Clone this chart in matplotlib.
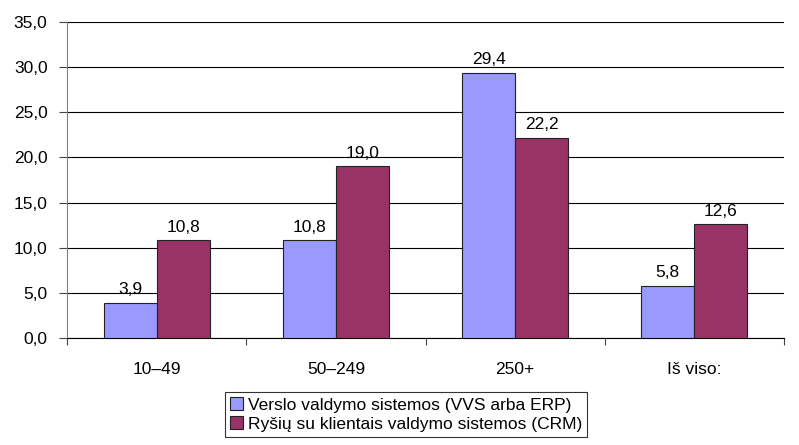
import numpy as np
import matplotlib
matplotlib.use("Agg")
import matplotlib.pyplot as plt

plt.rcParams['font.family'] = ['Liberation Sans', 'DejaVu Sans']

categories = ['10–49', '50–249', '250+', 'Iš viso:']
erp = [3.9, 10.8, 29.4, 5.8]
crm = [10.8, 19.0, 22.2, 12.6]
series_names = ['Verslo valdymo sistemos (VVS arba ERP)',
                'Ryšių su klientais valdymo sistemos (CRM)']

fig = plt.figure(figsize=(7.99, 4.45), dpi=100)
ax = fig.add_axes([67 / 799, 1 - 338 / 445, 717 / 799, 316 / 445])

fs = 12.5
x = np.arange(len(categories))
w = 0.296
b1 = ax.bar(x - w / 2, erp, w, color='#9999FF', edgecolor='#222222', linewidth=0.8,
            label=series_names[0], zorder=3)
b2 = ax.bar(x + w / 2, crm, w, color='#993366', edgecolor='#222222', linewidth=0.8,
            label=series_names[1], zorder=3)

for bars, vals in ((b1, erp), (b2, crm)):
    for r, v in zip(bars, vals):
        ax.text(r.get_x() + r.get_width() / 2, v + 0.6, ('%.1f' % v).replace('.', ','),
                ha='center', va='bottom', fontsize=fs)

ax.set_xlim(-0.5, len(categories) - 0.5)
ax.set_ylim(0, 35)
ax.set_yticks(np.arange(0, 35.1, 5))
ax.set_yticklabels([('%.1f' % t).replace('.', ',') for t in np.arange(0, 35.1, 5)], fontsize=fs)
ax.yaxis.grid(True, color='black', linewidth=0.8, zorder=0)
ax.set_axisbelow(True)

ax.set_xticks(np.arange(len(categories) + 1) - 0.5)
ax.set_xticklabels([])
ax.set_xticks(x, minor=True)
ax.set_xticklabels(categories, minor=True, fontsize=fs)
ax.tick_params(axis='x', which='minor', length=0, pad=17)
ax.tick_params(axis='x', which='major', length=5, direction='out', color='#444444')
ax.tick_params(axis='y', length=6, direction='out', color='#444444', pad=8)

for s in ('top', 'right'):
    ax.spines[s].set_visible(False)
ax.spines['left'].set_color('#808080')
ax.spines['bottom'].set_color('black')

leg = fig.legend(loc='upper center', bbox_to_anchor=(406 / 799, 1 - 392 / 445), ncol=1,
                 fontsize=fs, frameon=True, fancybox=False, edgecolor='black',
                 handlelength=0.75, handleheight=0.75, handletextpad=0.25,
                 borderpad=0.3, labelspacing=0.2, borderaxespad=0)
leg.get_frame().set_linewidth(0.8)

fig.savefig('out.png', dpi=100)
